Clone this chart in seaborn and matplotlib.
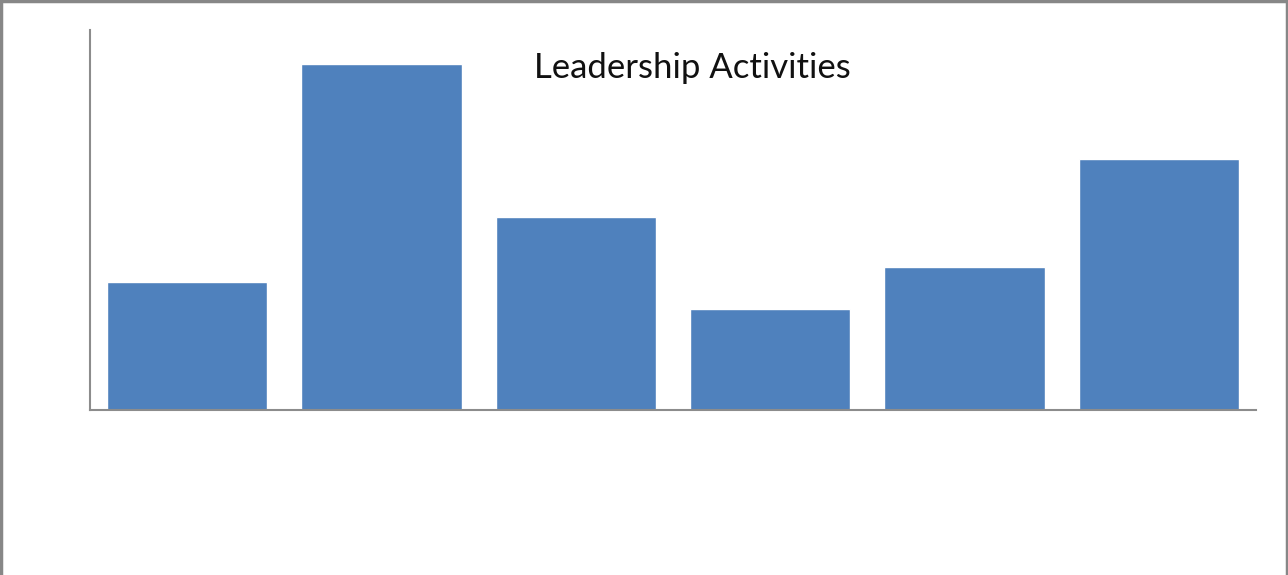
import matplotlib
matplotlib.use("Agg")
import matplotlib.pyplot as plt
from matplotlib.lines import Line2D
import pandas as pd
import seaborn as sns

sns.set_style("white")
plt.rcParams["font.family"] = ["Lato", "DejaVu Sans"]

# chart has no category labels shown; generic names
activities = ["Activity 1", "Activity 2", "Activity 3", "Activity 4", "Activity 5", "Activity 6"]
counts = [3.37, 9.1, 5.08, 2.66, 3.76, 6.6]

df = pd.DataFrame({"activity": activities, "count": counts})

fig = plt.figure(figsize=(12.88, 5.75), dpi=100)
ax = fig.add_axes([90 / 1288, 165 / 575, 1166 / 1288, 380 / 575])
sns.barplot(data=df, x="activity", y="count", color="#4F81BD", saturation=1,
            width=0.825, ax=ax)
ax.set_xlim(-0.5, 5.5)
ax.set_ylim(0, 10)
ax.set_xticks([])
ax.set_yticks([])
ax.set_xlabel("")
ax.set_ylabel("")
for s in ["top", "right"]:
    ax.spines[s].set_visible(False)
for s in ["left", "bottom"]:
    ax.spines[s].set_color("#8c8c8c")
    ax.spines[s].set_linewidth(1.5)

fig.text(692 / 1288, 1 - 68 / 575, "Leadership Activities", ha="center", va="center",
         fontsize=25, fontweight="normal", color="#111111")

# outer chart border
for xs, ys in [([0, 1], [0.998, 0.998]), ([0.001, 0.001], [0, 1]), ([0.999, 0.999], [0, 1])]:
    fig.add_artist(Line2D(xs, ys, transform=fig.transFigure, color="#878787", linewidth=2.5))

fig.savefig("out.png", dpi=100)
